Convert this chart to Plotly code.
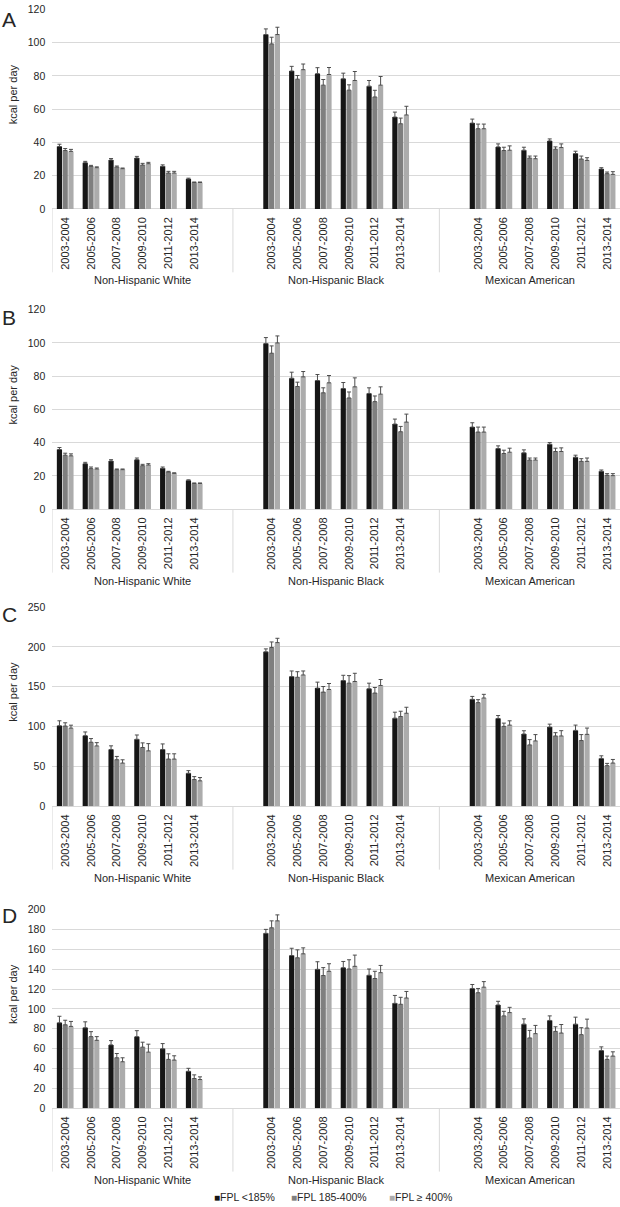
import plotly.graph_objects as go

W, H = 620, 1207

periods = ["2003-2004", "2005-2006", "2007-2008", "2009-2010", "2011-2012", "2013-2014"]
groups = ["Non-Hispanic White", "Non-Hispanic Black", "Mexican American"]
fpl_names = ["FPL <185%", "FPL 185-400%", "FPL \u2265 400%"]
panel_letters = ["A", "B", "C", "D"]

# ---- Panel A values (NHW x6, NHB x6, MA x6) ----
A_lt185 = [37.5, 27.8, 29.4, 30.6, 25.6, 18.0, 104.8, 82.9, 81.3, 78.2, 73.8, 55.2, 51.6, 37.3, 35.3, 40.9, 33.3, 24.0]
A_lt185_err = [1.4, 0.8, 0.9, 1.0, 0.9, 0.5, 3.4, 2.8, 3.6, 3.4, 3.4, 3.0, 2.4, 1.8, 1.8, 1.2, 1.4, 0.8]
A_mid = [35.1, 25.6, 25.2, 26.4, 21.6, 15.9, 99.2, 78.0, 74.4, 71.4, 67.3, 51.2, 48.2, 35.1, 30.6, 35.9, 30.0, 21.2]
A_mid_err = [1.2, 0.6, 0.6, 1.0, 1.0, 0.3, 4.0, 2.2, 3.4, 3.2, 4.0, 3.4, 2.8, 2.0, 1.2, 1.4, 1.8, 1.0]
A_ge400 = [34.6, 24.8, 24.2, 27.2, 21.6, 15.9, 104.8, 83.7, 80.8, 77.2, 74.4, 56.5, 48.2, 35.3, 30.2, 36.9, 29.2, 20.8]
A_ge400_err = [1.2, 0.5, 0.4, 0.8, 1.0, 0.3, 4.4, 3.4, 4.2, 5.4, 5.2, 5.2, 2.8, 2.6, 1.6, 2.2, 1.6, 1.6]

# ---- Panel B ----
B_lt185 = [35.9, 27.4, 29.0, 29.8, 24.6, 17.3, 99.6, 78.8, 77.4, 72.6, 69.6, 51.2, 49.4, 36.5, 33.9, 39.1, 31.3, 22.8]
B_lt185_err = [1.2, 0.8, 0.8, 1.0, 0.8, 0.4, 3.6, 3.6, 3.6, 3.6, 3.4, 3.0, 2.6, 1.6, 1.8, 1.0, 1.2, 0.8]
B_mid = [32.5, 24.4, 23.8, 26.2, 22.4, 15.5, 93.8, 73.8, 70.0, 66.9, 64.7, 46.6, 46.4, 33.5, 29.6, 34.7, 28.8, 20.4]
B_mid_err = [1.2, 1.0, 0.4, 0.8, 0.4, 0.3, 4.4, 2.6, 3.0, 3.6, 3.4, 3.2, 3.0, 2.0, 1.2, 2.0, 1.6, 1.0]
B_ge400 = [32.1, 24.2, 23.8, 26.6, 21.6, 15.5, 100.0, 79.6, 76.0, 73.6, 69.2, 52.4, 46.4, 34.3, 29.6, 34.7, 28.8, 20.2]
B_ge400_err = [1.2, 0.6, 0.4, 0.8, 0.3, 0.3, 4.2, 3.2, 4.4, 5.4, 4.4, 4.8, 3.0, 2.4, 1.2, 2.2, 2.0, 1.2]

# ---- Panel C ----
C_lt185 = [101.0, 88.6, 71.2, 84.0, 71.2, 41.4, 193.7, 162.7, 148.2, 157.7, 147.4, 110.5, 134.1, 110.1, 90.6, 99.3, 95.2, 60.0]
C_lt185_err = [6.2, 4.6, 4.6, 5.4, 7.0, 3.3, 3.7, 7.0, 7.5, 6.6, 7.0, 7.5, 3.7, 3.7, 4.1, 3.7, 6.6, 3.3]
C_mid = [100.6, 80.3, 58.4, 73.7, 59.2, 33.5, 199.1, 161.8, 143.2, 154.4, 142.0, 112.6, 130.0, 100.2, 77.0, 88.2, 82.4, 50.9]
C_mid_err = [4.1, 4.6, 4.1, 5.8, 6.6, 3.7, 7.0, 7.0, 7.0, 9.5, 7.0, 6.6, 3.7, 4.1, 6.6, 4.1, 7.5, 2.9]
C_ge400 = [98.0, 75.7, 54.2, 69.5, 59.2, 31.9, 205.3, 164.7, 146.5, 156.5, 151.5, 116.7, 135.8, 101.8, 82.0, 88.2, 90.2, 54.2]
C_ge400_err = [3.7, 4.1, 4.1, 9.1, 6.6, 4.1, 5.4, 5.0, 7.5, 10.3, 7.5, 7.5, 4.6, 5.4, 7.9, 6.6, 7.9, 4.5]

# ---- Panel D ----
D_lt185 = [86.0, 81.0, 63.8, 72.1, 59.8, 37.2, 176.1, 153.8, 139.9, 141.5, 133.9, 105.6, 120.6, 104.0, 84.7, 88.4, 84.7, 58.1]
D_lt185_err = [6.6, 6.0, 4.3, 6.0, 5.3, 3.0, 4.0, 7.3, 7.6, 6.3, 6.3, 8.0, 4.0, 3.7, 5.3, 4.6, 7.0, 3.7]
D_mid = [84.0, 72.1, 50.8, 61.5, 49.2, 29.9, 181.7, 151.5, 133.6, 140.2, 130.6, 104.7, 116.3, 93.0, 70.8, 77.4, 74.1, 49.2]
D_mid_err = [4.6, 5.0, 4.3, 5.0, 5.6, 3.7, 7.0, 8.0, 8.0, 9.3, 7.3, 7.0, 4.3, 4.6, 7.6, 4.6, 7.0, 3.3]
D_ge400 = [82.4, 68.4, 46.8, 56.5, 48.5, 28.9, 188.7, 155.5, 137.9, 142.9, 136.5, 111.0, 121.9, 96.3, 75.1, 75.7, 80.7, 52.5]
D_ge400_err = [5.0, 3.7, 4.0, 8.0, 4.3, 2.7, 6.0, 6.0, 7.6, 11.3, 7.3, 6.6, 5.6, 5.3, 8.3, 8.6, 9.0, 4.3]

panel_values = [
    [(A_lt185, A_lt185_err), (A_mid, A_mid_err), (A_ge400, A_ge400_err)],
    [(B_lt185, B_lt185_err), (B_mid, B_mid_err), (B_ge400, B_ge400_err)],
    [(C_lt185, C_lt185_err), (C_mid, C_mid_err), (C_ge400, C_ge400_err)],
    [(D_lt185, D_lt185_err), (D_mid, D_mid_err), (D_ge400, D_ge400_err)],
]
panel_ymax = [120, 120, 250, 200]
panel_dtick = [20, 20, 50, 20]

# ---- layout geometry (pixels) ----
plot_left = 52.3
panel_top = [3.3, 306.7, 607.0, 912.7]
panel_bottom = [205.0, 508.3, 808.3, 1113.3]
letter_y = [14, 315, 615, 919]
legend_x = [213, 290, 388]
legend_y = 1203

colors = ["#161616", "#7f7f7f", "#acacac"]
FONT = "Liberation Sans, Arial, sans-serif"
TXT = "#262626"

# category slots: each group has a blank slot around its six periods
group_first_slot = [0, 8, 16]
xs = [g + i for g in group_first_slot for i in range(len(periods))]
ticktext = periods * len(groups)
group_centers = [3.0, 10.5, 18.0]
separators = [-0.5, 6.5, 14.5]


def py(px):
    return 1 - px / H


fig = go.Figure()
layout = dict(
    width=W, height=H, autosize=False,
    margin=dict(l=0, r=0, t=0, b=0),
    paper_bgcolor="white", plot_bgcolor="white",
    barmode="group", bargap=0.33, bargroupgap=0.1,
    font=dict(family=FONT, size=11, color=TXT),
    showlegend=False,
)
shapes = []
annotations = []

for k in range(4):
    sfx = "" if k == 0 else str(k + 1)
    xname, yname = "x" + sfx, "y" + sfx
    for j in range(3):
        vals, errs = panel_values[k][j]
        fig.add_trace(go.Bar(
            x=xs, y=vals, name=fpl_names[j], legendgroup=fpl_names[j],
            showlegend=False,
            marker=dict(color=colors[j], line=dict(width=0)),
            error_y=dict(type="data", array=errs, arrayminus=[0] * len(errs), symmetric=False,
                         color="#4d4d4d", thickness=1, width=2),
            xaxis=xname, yaxis=yname,
        ))
    dom_y = [py(panel_bottom[k]), py(panel_top[k])]
    layout["xaxis" + sfx] = dict(
        domain=[plot_left / W, 1.0], anchor=yname, range=[-0.5, 21.5],
        tickmode="array", tickvals=xs, ticktext=ticktext, tickangle=-90,
        tickfont=dict(size=11, color=TXT), ticks="", ticklabelstandoff=5,
        showgrid=False, zeroline=False, showline=False, fixedrange=True,
    )
    layout["yaxis" + sfx] = dict(
        domain=dom_y, anchor=xname, range=[0, panel_ymax[k]], dtick=panel_dtick[k],
        tickfont=dict(size=10.5, color=TXT), ticks="", ticklabelstandoff=6,
        showgrid=True, gridcolor="#d9d9d9", gridwidth=1,
        zeroline=True, zerolinecolor="#d9d9d9", zerolinewidth=1,
        showline=False, fixedrange=True,
    )
    for sx in separators:
        shapes.append(dict(type="line", xref=xname, yref="paper", x0=sx, x1=sx,
                           y0=py(panel_bottom[k]), y1=py(panel_bottom[k] + 64),
                           line=dict(color="#d9d9d9", width=1)))
    for gc, gname in zip(group_centers, groups):
        annotations.append(dict(xref=xname, yref="paper", x=gc, y=py(panel_bottom[k] + 72),
                                text=gname, showarrow=False, xanchor="center", yanchor="middle",
                                font=dict(size=11, color=TXT)))
    annotations.append(dict(xref="paper", yref="paper", x=9 / W, y=py(letter_y[k]),
                            text=panel_letters[k], showarrow=False, xanchor="center",
                            yanchor="middle", font=dict(size=21, color=TXT)))
    annotations.append(dict(xref="paper", yref="paper", x=13 / W,
                            y=py((panel_top[k] + panel_bottom[k]) / 2 - 15),
                            text="kcal per day", textangle=-90, showarrow=False,
                            xanchor="center", yanchor="middle",
                            font=dict(size=11, color=TXT)))

# legend entries (compact, Excel-like)
for lx, name, col in zip(legend_x, fpl_names, colors):
    label = name.replace("<", "&lt;")
    annotations.append(dict(xref="paper", yref="paper", x=lx / W, y=py(legend_y),
                            text="<span style='color:%s;font-size:10px'>\u25A0</span>%s" % (col, label),
                            showarrow=False, xanchor="left", yanchor="middle", borderpad=0,
                            font=dict(size=10.5, color=TXT)))

layout["shapes"] = shapes
layout["annotations"] = annotations
fig.update_layout(**layout)
fig.write_html("out.html", config={"displayModeBar": False},
               post_script="document.body.style.margin='0';document.body.style.overflow='hidden';")
